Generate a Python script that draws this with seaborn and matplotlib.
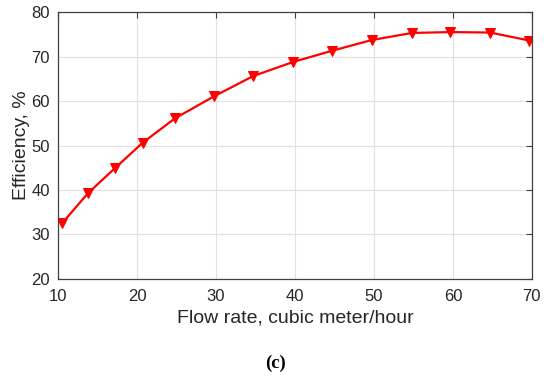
import matplotlib
matplotlib.use("Agg")
import matplotlib.pyplot as plt
import seaborn as sns
import pandas as pd

flow_rate = [10.5, 13.8, 17.2, 20.7, 24.8, 29.8, 34.7, 39.8, 44.7, 49.7, 54.8, 59.6, 64.7, 69.7]
efficiency = [32.5, 39.3, 44.9, 50.6, 56.1, 61.1, 65.6, 68.8, 71.3, 73.7, 75.3, 75.5, 75.4, 73.6]
x_ticks = [10, 20, 30, 40, 50, 60, 70]
y_ticks = [20, 30, 40, 50, 60, 70, 80]

sns.set_style("white")
plt.rcParams['font.family'] = ['Liberation Sans', 'DejaVu Sans']

df = pd.DataFrame({"flow": flow_rate, "eff": efficiency})

fig = plt.figure(figsize=(5.5, 3.77), dpi=100)
ax = fig.add_axes([0.1055, 0.260, 0.8615, 0.708])
sns.lineplot(data=df, x="flow", y="eff", ax=ax, color="#ff0000", linewidth=1.6,
             marker="v", markersize=7, markeredgecolor="#ff0000", markerfacecolor="#ff0000")

ax.set_xlim(10, 70)
ax.set_ylim(20, 80)
ax.set_xticks(x_ticks)
ax.set_yticks(y_ticks)
ax.grid(True, color="#e0e0e0", linewidth=0.8)
ax.set_axisbelow(True)
for s in ax.spines.values():
    s.set_visible(True)
    s.set_color("#404040")
    s.set_linewidth(0.9)
ax.tick_params(direction="in", length=4, width=0.8, color="#404040",
               top=True, right=True, labelsize=12, labelcolor="#262626", pad=6)
ax.tick_params(axis="x", pad=7)
ax.set_xlabel("Flow rate, cubic meter/hour", fontsize=14, color="#262626", labelpad=4)
ax.set_ylabel("Efficiency, %", fontsize=14, color="#262626", labelpad=1)

fig.text(0.5, 1 - 363 / 377, "(c)", ha="center", va="center", fontsize=13.5,
         fontweight="bold", family=["Liberation Serif"], color="black")

fig.savefig("out.png", dpi=100)
